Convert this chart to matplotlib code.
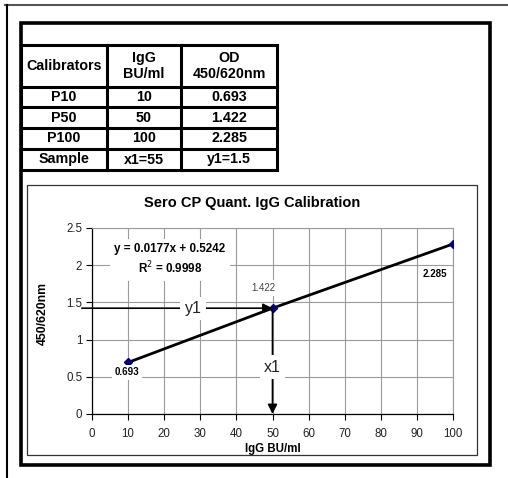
import matplotlib
matplotlib.use("Agg")
import matplotlib.pyplot as plt
from matplotlib.lines import Line2D
from matplotlib.patches import Rectangle

plt.rcParams["font.family"] = ["Liberation Sans", "DejaVu Sans"]

# -------------------
# Data
# -------------------

calibrators = ["P10", "P50", "P100", "Sample"]
igg_values = ["10", "50", "100", "x1=55"]
od_values = ["0.693", "1.422", "2.285", "y1=1.5"]

igg = [10, 50, 100]
od = [0.693, 1.422, 2.285]

equation = "y = 0.0177x + 0.5242\nR$^2$ = 0.9998"

W, H = 508, 478

fig = plt.figure(figsize=(W / 100, H / 100), dpi=100)


def fx(x):
    return x / W


def fy(y):
    return 1 - y / H


def hline(x0, x1, y, lw, color="black"):
    fig.add_artist(Line2D([fx(x0), fx(x1)], [fy(y), fy(y)],
                          transform=fig.transFigure, lw=lw, color=color,
                          solid_capstyle="projecting"))


def vline(x, y0, y1, lw, color="black"):
    fig.add_artist(Line2D([fx(x), fx(x)], [fy(y0), fy(y1)],
                          transform=fig.transFigure, lw=lw, color=color,
                          solid_capstyle="projecting"))


# -------------------
# Frames
# -------------------

hline(5, 508, 5, 1.5, "#555555")
vline(7, 5, 478, 1.5)

fig.add_artist(Rectangle((fx(21), fy(465)), fx(490) - fx(21), fy(23) - fy(465),
                         transform=fig.transFigure, fill=False, lw=2.6,
                         edgecolor="black"))

fig.add_artist(Rectangle((fx(27), fy(455)), fx(477) - fx(27), fy(185) - fy(455),
                         transform=fig.transFigure, fill=False, lw=0.9,
                         edgecolor="#333333"))

# -------------------
# Table
# -------------------

col_x = [21, 107, 181, 277]
row_y = [45, 87, 107, 128, 149, 170]

for y in row_y:
    hline(col_x[0], col_x[-1], y, 2.2)
for x in col_x:
    vline(x, row_y[0], row_y[-1], 2.2)

col_c = [(col_x[i] + col_x[i + 1]) / 2 for i in range(3)]
headers = ["Calibrators", "IgG\nBU/ml", "OD\n450/620nm"]

for c, txt in zip(col_c, headers):
    fig.text(fx(c), fy((row_y[0] + row_y[1]) / 2), txt, ha="center",
             va="center", fontsize=10.3, fontweight="bold", linespacing=1.2)

for i in range(len(calibrators)):
    yc = fy((row_y[i + 1] + row_y[i + 2]) / 2)
    for c, txt in zip(col_c, [calibrators[i], igg_values[i], od_values[i]]):
        fig.text(fx(c), yc, txt, ha="center", va="center", fontsize=10.3,
                 fontweight="bold")

# -------------------
# Chart
# -------------------

fig.text(fx(252), fy(203), "Sero CP Quant. IgG Calibration", ha="center",
         va="center", fontsize=10.5, fontweight="bold")

ax = fig.add_axes([fx(92), fy(414), fx(453) - fx(92), fy(228) - fy(414)])

ax.set_xlim(0, 100)
ax.set_ylim(0, 2.5)
ax.set_xticks(range(0, 101, 10))
ax.set_yticks([0, 0.5, 1, 1.5, 2, 2.5])
ax.set_yticklabels(["0", "0.5", "1", "1.5", "2", "2.5"])
ax.grid(True, color="#9a9a9a", lw=0.8)
ax.set_axisbelow(True)

ax.tick_params(direction="out", length=4, width=0.8, labelsize=8.3, pad=3,
               labelcolor="#222222")
ax.tick_params(axis="x", pad=6)
for s in ["top", "right"]:
    ax.spines[s].set_color("#9a9a9a")
    ax.spines[s].set_linewidth(0.8)
for s in ["left", "bottom"]:
    ax.spines[s].set_color("black")
    ax.spines[s].set_linewidth(0.9)

ax.set_xlabel("IgG BU/ml", fontsize=8.3, fontweight="bold")
ax.xaxis.set_label_coords(0.5, -0.155)
ax.set_ylabel("450/620nm", fontsize=8.8, fontweight="bold")
ax.yaxis.set_label_coords(-0.119, 0.54)

ax.plot(igg, od, color="black", lw=2, zorder=3)
ax.plot(igg, od, ls="none", marker="D", ms=4, color="#000080", zorder=4)

ax.text(21.6, 2.07, equation, ha="center", va="center", fontsize=8.4,
        fontweight="bold", linespacing=1.35, zorder=5,
        bbox=dict(facecolor="white", edgecolor="none", pad=3))

ax.text(9.7, 0.56, "0.693", ha="center", va="center", fontsize=7,
        fontweight="bold", zorder=5,
        bbox=dict(facecolor="white", edgecolor="none", pad=2))
ax.text(47.4, 1.69, "1.422", ha="center", va="center", fontsize=7,
        color="#444444", zorder=5,
        bbox=dict(facecolor="white", edgecolor="none", pad=2))
ax.text(95, 1.88, "2.285", ha="center", va="center", fontsize=7,
        fontweight="bold", zorder=5,
        bbox=dict(facecolor="white", edgecolor="none", pad=2))

# sample lookup arrows
ax.annotate("", xy=(50, od[1]), xytext=(-2.8, od[1]), annotation_clip=False,
            arrowprops=dict(arrowstyle="-|>", color="black", lw=1.2,
                            mutation_scale=14, shrinkA=0, shrinkB=0),
            zorder=4)
ax.annotate("", xy=(50, 0), xytext=(50, od[1]), annotation_clip=False,
            arrowprops=dict(arrowstyle="-|>", color="black", lw=1.2,
                            mutation_scale=14, shrinkA=0, shrinkB=0),
            zorder=4)

ax.text(28, od[1], "y1", ha="center", va="center", fontsize=11.5, zorder=6,
        color="#222222",
        bbox=dict(facecolor="white", edgecolor="none", pad=3))
ax.text(50, 0.63, "x1", ha="center", va="center", fontsize=11.5, zorder=6,
        color="#222222",
        bbox=dict(facecolor="white", edgecolor="none", pad=3))

fig.savefig("out.png", dpi=100)
